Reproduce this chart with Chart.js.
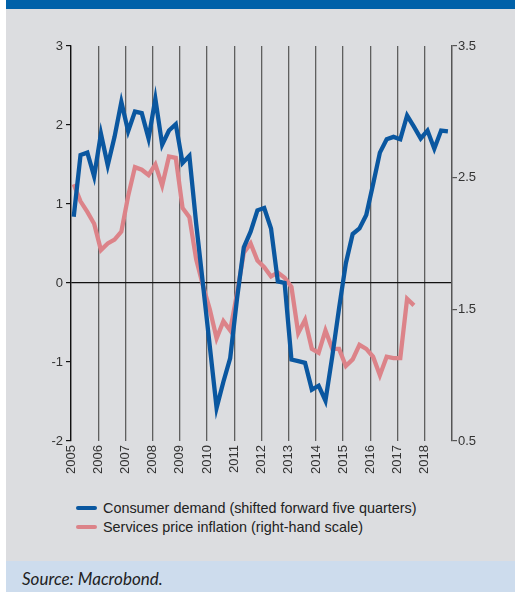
<!DOCTYPE html>
<html>
<head>
<meta charset="utf-8">
<script src="https://cdn.jsdelivr.net/npm/chart.js@4.4.1/dist/chart.umd.min.js"></script>
<style>
  html, body { margin: 0; padding: 0; background: #fff; }
  #wrap { position: relative; width: 515px; height: 592px; overflow: hidden; }
  #topbar { position: absolute; left: 6px; top: 0; width: 509px; height: 9px; background: #0061a9; }
  #panel { position: absolute; left: 6px; top: 9px; width: 509px; height: 552px; background: #dcdde0; }
  #source { position: absolute; left: 6px; top: 561px; width: 509px; height: 31px; background: #cddced;
            font-family: Lato, "Open Sans", sans-serif; font-style: italic; font-size: 17px; color: #222; }
  #source span { position: absolute; left: 16px; top: 7px; }
  #c { position: absolute; left: 0; top: 0; }
  #legend { position: absolute; left: 76px; top: 498px; font-family: "Liberation Sans", Arial, sans-serif;
            font-size: 14.4px; color: #222; }
  .item { height: 19px; display: flex; align-items: center; }
  .swatch { width: 21px; height: 4px; border-radius: 2px; margin-right: 6px; }
</style>
</head>
<body>
<div id="wrap">
  <div id="topbar"></div>
  <div id="panel"></div>
  <canvas id="c" width="515" height="490"></canvas>
  <div id="legend"></div>
  <div id="source"><span>Source: Macrobond.</span></div>
</div>
<script>
// Years shown on the time axis (quarterly data)
const years = [2005, 2006, 2007, 2008, 2009, 2010, 2011, 2012, 2013, 2014, 2015, 2016, 2017, 2018];

// Consumer demand, shifted forward five quarters (left scale), 2005Q1..2018Q4
const consumerDemand = [
  0.84, 1.62, 1.65, 1.35, 1.89, 1.49, 1.85, 2.29,
  1.92, 2.17, 2.15, 1.83, 2.33, 1.75, 1.93, 2.01,
  1.52, 1.61, 0.75, -0.02, -0.80, -1.58, -1.25, -0.95,
  -0.20, 0.45, 0.65, 0.92, 0.95, 0.69, 0.02, 0.00,
  -0.97, -0.99, -1.01, -1.35, -1.30, -1.49, -0.93, -0.32,
  0.25, 0.62, 0.69, 0.86, 1.25, 1.65, 1.82, 1.85,
  1.82, 2.12, 1.98, 1.83, 1.93, 1.70, 1.93, 1.92
];

// Services price inflation (right scale), 2005Q1..2017Q3
const servicesInflation = [
  2.45, 2.32, 2.24, 2.15, 1.95, 2.00, 2.03, 2.09,
  2.36, 2.58, 2.56, 2.52, 2.60, 2.44, 2.66, 2.65,
  2.27, 2.20, 1.88, 1.68, 1.50, 1.28, 1.41, 1.34,
  1.62, 1.93, 2.00, 1.87, 1.82, 1.75, 1.78, 1.74,
  1.67, 1.32, 1.42, 1.20, 1.17, 1.34, 1.20, 1.20,
  1.07, 1.12, 1.23, 1.20, 1.14, 1.00, 1.14, 1.13,
  1.13, 1.58, 1.53
];

const leftTicks = [-2, -1, 0, 1, 2, 3];
const rightTicks = [0.5, 1.5, 2.5, 3.5];

const BLUE = '#0a57a0';
const PINK = '#dc8389';

// each quarter sits a little after the start of its quarter
const quarterPos = years.flatMap(y => [0, 1, 2, 3].map(q => y + q * 0.25 + 0.1));
const toPoints = arr => arr.map((v, i) => ({ x: quarterPos[i], y: v }));

const tickFont = { family: '"Liberation Sans", Arial, sans-serif', size: 13 };

new Chart(document.getElementById('c'), {
  type: 'line',
  data: {
    datasets: [
      {
        label: 'Consumer demand (shifted forward five quarters)',
        data: toPoints(consumerDemand),
        yAxisID: 'yL',
        borderColor: BLUE,
        borderWidth: 4.3,
        pointRadius: 0,
        tension: 0
      },
      {
        label: 'Services price inflation (right-hand scale)',
        data: toPoints(servicesInflation),
        yAxisID: 'yR',
        borderColor: PINK,
        borderWidth: 4.3,
        pointRadius: 0,
        tension: 0
      }
    ]
  },
  options: {
    responsive: false,
    animation: false,
    layout: { padding: { top: 46, left: 0, right: 0, bottom: 0 } },
    plugins: { legend: { display: false }, tooltip: { enabled: false } },
    scales: {
      x: {
        type: 'linear',
        min: years[0],
        max: years[years.length - 1] + 1,
        afterBuildTicks: s => { s.ticks = years.concat([years[years.length - 1] + 1]).map(v => ({ value: v })); },
        afterFit: s => { s.height = 49; },
        grid: { color: '#5f5f5f', lineWidth: 1.3, drawTicks: false },
        border: { display: false },
        ticks: {
          minRotation: 90, maxRotation: 90, padding: 4,
          color: '#333', font: tickFont,
          callback: v => (years.includes(v) ? String(v) : '')
        }
      },
      yL: {
        position: 'left',
        min: -2, max: 3,
        afterBuildTicks: s => { s.ticks = leftTicks.map(v => ({ value: v })); },
        afterFit: s => { s.width = 71; },
        grid: {
          color: c => (c.tick && c.tick.value === 0 ? '#111' : 'rgba(0,0,0,0)'),
          tickColor: '#111', tickLength: 5, lineWidth: 1.2
        },
        border: { display: true, color: '#111', width: 1.3 },
        ticks: { color: '#333', font: tickFont, padding: 3 }
      },
      yR: {
        position: 'right',
        min: 0.5, max: 3.5,
        afterBuildTicks: s => { s.ticks = rightTicks.map(v => ({ value: v })); },
        afterFit: s => { s.width = 63; },
        grid: { drawOnChartArea: false, tickColor: '#555', tickLength: 5, lineWidth: 1.2 },
        border: { display: true, color: '#555', width: 1.3 },
        ticks: { color: '#333', font: tickFont, padding: 1, callback: v => v.toFixed(1) }
      }
    }
  }
});

// html legend, stacked and left aligned as in the original
const legendEl = document.getElementById('legend');
[['Consumer demand (shifted forward five quarters)', BLUE],
 ['Services price inflation (right-hand scale)', PINK]].forEach(([text, color]) => {
  const row = document.createElement('div');
  row.className = 'item';
  row.innerHTML = '<div class="swatch" style="background:' + color + '"></div><span>' + text + '</span>';
  legendEl.appendChild(row);
});
</script>
</body>
</html>
